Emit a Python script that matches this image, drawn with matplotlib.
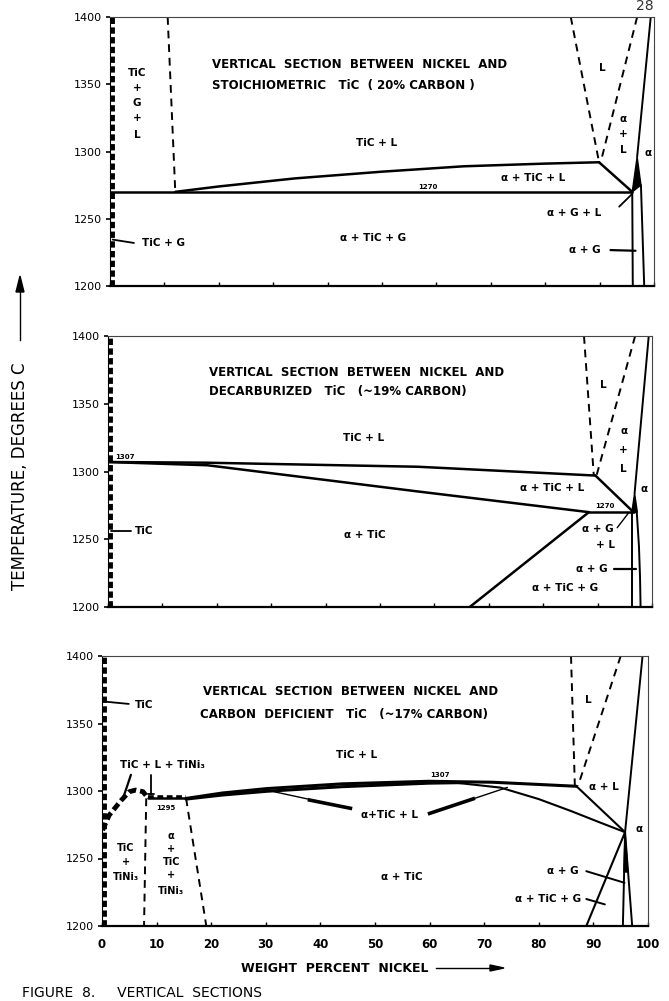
import matplotlib
matplotlib.use("Agg")
from matplotlib import pyplot as plt
from matplotlib.patches import Polygon

plt.rcParams.update({'font.family': 'DejaVu Sans'})

# ---------------- data (wt% Ni, deg C) ----------------
temps = [1200, 1250, 1300, 1350, 1400]
ni_ticks = [0, 10, 20, 30, 40, 50, 60, 70, 80, 90, 100]

# panel 1 : stoichiometric TiC (20% C)
p1_liq_x = [12, 20, 34, 50, 65, 80, 89.9]
p1_liq_t = [1270, 1274, 1280, 1285, 1289, 1291, 1292]
p1_eut_x = [0, 96.0]
p1_eut_t = [1270, 1270]
p1_per_x = [89.9, 96.0]
p1_per_t = [1292, 1270]
p1_dash_a_x = [84.7, 89.9]
p1_dash_a_t = [1400, 1292]
p1_dash_b_x = [96.9, 90.2]
p1_dash_b_t = [1400, 1292]
p1_dash_g_x = [10.6, 12.0]
p1_dash_g_t = [1400, 1270]
p1_alpha_x = [99.4, 96.9]
p1_alpha_t = [1400, 1296]
p1_wedge_x = [96.9, 96.0, 97.6]
p1_wedge_t = [1296, 1270, 1275]
p1_solv_l_x = [96.0, 96.1]
p1_solv_l_t = [1270, 1200]
p1_solv_r_x = [97.6, 98.2]
p1_solv_r_t = [1275, 1200]

# panel 2 : decarburized TiC (~19% C)
p2_liq_x = [0, 18, 57, 89.6]
p2_liq_t = [1307, 1306.5, 1303.5, 1297]
p2_sol_x = [0, 18.3, 56.9, 88.4]
p2_sol_t = [1307, 1304.6, 1285.3, 1270]
p2_eut_x = [88.4, 96.6]
p2_eut_t = [1270, 1270]
p2_per_x = [89.6, 96.6]
p2_per_t = [1297, 1270]
p2_tcg_x = [88.4, 66.5]
p2_tcg_t = [1270, 1200]
p2_dash_a_x = [87.5, 89.3]
p2_dash_a_t = [1400, 1297]
p2_dash_b_x = [96.9, 89.8]
p2_dash_b_t = [1400, 1297]
p2_alpha_x = [99.4, 96.8]
p2_alpha_t = [1400, 1284]
p2_wedge_x = [96.8, 96.3, 97.3]
p2_wedge_t = [1284, 1270, 1270]
p2_solv_l_x = [96.4, 96.4]
p2_solv_l_t = [1270, 1200]
p2_solv_r_x = [97.2, 97.6, 97.8, 97.9]
p2_solv_r_t = [1270, 1245, 1222, 1200]

# panel 3 : carbon deficient TiC (~17% C)
p3_tini_x = [0.1, 1.3, 3.5, 5.0, 6.2, 7.5, 8.4]
p3_tini_t = [1271, 1282, 1293, 1299.5, 1300.7, 1299.5, 1295]
p3_flat_x = [8.4, 15.4]
p3_flat_t = [1294.5, 1294.5]
p3_liq_x = [15.4, 22, 30.2, 44, 59.8, 71.5, 86.9]
p3_liq_t = [1294.5, 1298.5, 1301.8, 1305.3, 1307.2, 1306.5, 1303.5]
p3_sol_x = [15.4, 22, 30.2, 44, 59.8, 66]
p3_sol_t = [1294, 1297, 1299.8, 1303.2, 1305.8, 1306.2]
p3_low_x = [64, 73, 80, 86, 91, 95.8]
p3_low_t = [1306.5, 1302.5, 1294, 1285, 1277, 1269.5]
p3_per_x = [86.9, 95.8]
p3_per_t = [1303.5, 1269.5]
p3_tcg_x = [95.8, 88.7]
p3_tcg_t = [1269.5, 1200]
p3_dash_a_x = [85.9, 86.6]
p3_dash_a_t = [1400, 1304]
p3_dash_b_x = [95.0, 87.2]
p3_dash_b_t = [1400, 1304]
p3_dash_c_x = [8.1, 7.7]
p3_dash_c_t = [1294.5, 1200]
p3_dash_d_x = [15.4, 19.1]
p3_dash_d_t = [1294.5, 1200]
p3_alpha_x = [99.0, 95.8]
p3_alpha_t = [1400, 1269.5]
p3_solv_l_x = [95.8, 95.4]
p3_solv_l_t = [1269.5, 1200]
p3_solv_r_x = [95.8, 97.1]
p3_solv_r_t = [1269.5, 1200]
p3_wedge_x = [95.8, 95.6, 96.3]
p3_wedge_t = [1269.5, 1240, 1240]

W, H = 669, 1001
fig = plt.figure(figsize=(W / 100, H / 100), dpi=100)


def make_axes(left, right, top, bottom):
    ax = fig.add_axes([left / W, 1 - bottom / H, (right - left) / W, (bottom - top) / H])
    ax.set_xlim(0, 100)
    ax.set_ylim(1200, 1400)
    ax.set_yticks(temps)
    ax.set_yticklabels([str(t) for t in temps], fontsize=8)
    ax.set_xticks(ni_ticks)
    ax.tick_params(axis='y', direction='out', length=3, width=1.2, pad=3)
    ax.tick_params(axis='x', direction='in', length=3, width=1)
    for s in ['top', 'right']:
        ax.spines[s].set_linewidth(0.8)
        ax.spines[s].set_color('#444444')
    ax.spines['bottom'].set_linewidth(1.6)
    ax.spines['left'].set_linewidth(0.8)
    # heavy dashed TiC boundary along the left edge
    ax.plot([0.3, 0.3], [1200, 1400], color='black', lw=3.5,
            linestyle=(0, (1.3, 0.7)), clip_on=False, solid_capstyle='butt')
    return ax


def solid(ax, x, t, lw=1.8):
    ax.plot(x, t, color='black', lw=lw, solid_capstyle='round')


def dashed(ax, x, t, lw=1.4):
    ax.plot(x, t, color='black', lw=lw, linestyle=(0, (4, 3)))


def label(ax, x, t, s, size=7.5, ha='center'):
    ax.text(x, t, s, ha=ha, va='center', fontsize=size, fontweight='bold')


def stack(ax, x, ts, words, size=7.5):
    for t, w in zip(ts, words):
        label(ax, x, t, w, size)


def wedge(ax, x, t):
    ax.add_patch(Polygon(list(zip(x, t)), closed=True, color='black'))


# ---------------- panel 1 ----------------
ax1 = make_axes(110, 654, 17, 286)
ax1.set_xticklabels([])
solid(ax1, p1_liq_x, p1_liq_t)
solid(ax1, p1_eut_x, p1_eut_t)
solid(ax1, p1_per_x, p1_per_t)
dashed(ax1, p1_dash_a_x, p1_dash_a_t)
dashed(ax1, p1_dash_b_x, p1_dash_b_t)
dashed(ax1, p1_dash_g_x, p1_dash_g_t)
solid(ax1, p1_alpha_x, p1_alpha_t, 1.4)
wedge(ax1, p1_wedge_x, p1_wedge_t)
solid(ax1, p1_solv_l_x, p1_solv_l_t, 1.4)
solid(ax1, p1_solv_r_x, p1_solv_r_t, 1.4)
solid(ax1, [0.5, 4.4], [1234.5, 1232], 1.3)
solid(ax1, [93.6, 96.0], [1259, 1268.5], 1.3)
solid(ax1, [92.0, 96.6], [1226.7, 1226.2], 1.6)

label(ax1, 18.7, 1365, 'VERTICAL  SECTION  BETWEEN  NICKEL  AND', 8.5, 'left')
label(ax1, 18.7, 1349, 'STOICHIOMETRIC   TiC  ( 20% CARBON )', 8.5, 'left')
stack(ax1, 5.0, [1358, 1347, 1336, 1325, 1312], ['TiC', '+', 'G', '+', 'L'])
label(ax1, 49, 1306, 'TiC + L')
label(ax1, 90.5, 1362, 'L')
stack(ax1, 94.3, [1324, 1313, 1301], ['α', '+', 'L'])
label(ax1, 98.9, 1299, 'α')
label(ax1, 77.7, 1280, 'α + TiC + L')
label(ax1, 58.4, 1273.8, '1270', 5)
label(ax1, 85.3, 1254, 'α + G + L')
label(ax1, 9.8, 1232, 'TiC + G')
label(ax1, 48.4, 1236, 'α + TiC + G')
label(ax1, 87.2, 1227, 'α + G')

# ---------------- panel 2 ----------------
ax2 = make_axes(108, 652, 336, 607)
ax2.set_xticklabels([])
solid(ax2, p2_liq_x, p2_liq_t)
solid(ax2, p2_sol_x, p2_sol_t)
solid(ax2, p2_eut_x, p2_eut_t)
solid(ax2, p2_per_x, p2_per_t)
solid(ax2, p2_tcg_x, p2_tcg_t)
dashed(ax2, p2_dash_a_x, p2_dash_a_t)
dashed(ax2, p2_dash_b_x, p2_dash_b_t)
solid(ax2, p2_alpha_x, p2_alpha_t, 1.4)
wedge(ax2, p2_wedge_x, p2_wedge_t)
solid(ax2, p2_solv_l_x, p2_solv_l_t, 1.4)
solid(ax2, p2_solv_r_x, p2_solv_r_t, 1.4)
solid(ax2, [0.5, 4.2], [1256, 1256], 1.3)
solid(ax2, [93.6, 95.7], [1258.5, 1269.5], 1.0)
solid(ax2, [93.0, 97.0], [1228, 1228], 1.6)

label(ax2, 18.6, 1373, 'VERTICAL  SECTION  BETWEEN  NICKEL  AND', 8.5, 'left')
label(ax2, 18.6, 1359, 'DECARBURIZED   TiC   (~19% CARBON)', 8.5, 'left')
label(ax2, 3.2, 1310.5, '1307', 5)
label(ax2, 46.9, 1324.5, 'TiC + L')
label(ax2, 91.1, 1363.5, 'L')
stack(ax2, 94.8, [1330, 1315.5, 1302], ['α', '+', 'L'])
label(ax2, 98.5, 1287, 'α')
label(ax2, 81.7, 1288, 'α + TiC + L')
label(ax2, 91.4, 1274.5, '1270', 5)
label(ax2, 6.6, 1256, 'TiC')
label(ax2, 47.2, 1253.5, 'α + TiC')
label(ax2, 90.0, 1257.5, 'α + G')
label(ax2, 91.4, 1246, '+ L')
label(ax2, 89.0, 1228, 'α + G')
label(ax2, 84.1, 1214, 'α + TiC + G')

# ---------------- panel 3 ----------------
ax3 = make_axes(102, 648, 656, 926)
ax3.set_xticklabels([str(v) for v in ni_ticks], fontsize=8.5, fontweight='bold')
ax3.tick_params(axis='x', pad=9)
ax3.plot(p3_tini_x, p3_tini_t, color='black', lw=3.5, linestyle=(0, (1.6, 0.8)))
solid(ax3, p3_flat_x, p3_flat_t)
ax3.plot(p3_flat_x, [t + 1 for t in p3_flat_t], color='black', lw=2.6,
         linestyle=(0, (1.6, 1.0)))
solid(ax3, p3_liq_x, p3_liq_t, 2.2)
solid(ax3, p3_sol_x, p3_sol_t, 2.2)
solid(ax3, p3_low_x, p3_low_t, 1.5)
solid(ax3, p3_per_x, p3_per_t, 1.5)
solid(ax3, p3_tcg_x, p3_tcg_t, 1.5)
dashed(ax3, p3_dash_a_x, p3_dash_a_t)
dashed(ax3, p3_dash_b_x, p3_dash_b_t)
dashed(ax3, p3_dash_c_x, p3_dash_c_t)
dashed(ax3, p3_dash_d_x, p3_dash_d_t)
solid(ax3, p3_alpha_x, p3_alpha_t, 1.4)
solid(ax3, p3_solv_l_x, p3_solv_l_t, 1.4)
solid(ax3, p3_solv_r_x, p3_solv_r_t, 1.4)
wedge(ax3, p3_wedge_x, p3_wedge_t)
solid(ax3, [0.3, 4.9], [1366.3, 1364.5], 1.3)
solid(ax3, [5.3, 3.8], [1312, 1294], 1.6)
solid(ax3, [9.0, 9.0], [1312, 1298], 1.3)
solid(ax3, [8.4, 9.6], [1298, 1298], 1.3)
ax3.plot([31.6, 45.5], [1299.4, 1287.2], color='black', lw=1.0)
ax3.plot([38, 45.5], [1293.3, 1287.2], color='black', lw=2.6)
ax3.plot([74.2, 60.0], [1302.6, 1283.4], color='black', lw=1.0)
ax3.plot([68, 60.0], [1294.2, 1283.4], color='black', lw=2.6)
solid(ax3, [88.7, 95.7], [1240.6, 1232], 1.4)
solid(ax3, [88.7, 92.1], [1220, 1216], 1.4)

label(ax3, 18.5, 1373.5, 'VERTICAL  SECTION  BETWEEN  NICKEL  AND', 8.5, 'left')
label(ax3, 18.0, 1357, 'CARBON  DEFICIENT   TiC   (~17% CARBON)', 8.5, 'left')
label(ax3, 7.8, 1363.5, 'TiC')
label(ax3, 11.0, 1319.5, 'TiC + L + TiNi₃')
label(ax3, 11.6, 1287.5, '1295', 5)
stack(ax3, 4.4, [1257.5, 1247.5, 1236.5], ['TiC', '+', 'TiNi₃'], 7)
stack(ax3, 12.7, [1267, 1257, 1247.5, 1237.5, 1226], ['α', '+', 'TiC', '+', 'TiNi₃'], 7)
label(ax3, 46.7, 1327, 'TiC + L')
label(ax3, 61.9, 1311.5, '1307', 5)
label(ax3, 52.6, 1282.5, 'α+TiC + L')
label(ax3, 55.0, 1236, 'α + TiC')
label(ax3, 89.0, 1367.5, 'L')
label(ax3, 92.0, 1303, 'α + L')
label(ax3, 98.3, 1271.5, 'α')
label(ax3, 84.4, 1240.6, 'α + G')
label(ax3, 81.7, 1220, 'α + TiC + G')

# ---------------- page furniture ----------------
fig.text(20 / W, 1 - 476 / H, 'TEMPERATURE, DEGREES C', rotation=90,
         ha='center', va='center', fontsize=12)
fig.add_artist(plt.Line2D([20 / W, 20 / W], [1 - 340 / H, 1 - 285 / H],
                          color='black', lw=1.0))
fig.add_artist(plt.Polygon([[16 / W, 1 - 292 / H], [24 / W, 1 - 292 / H],
                            [20 / W, 1 - 276 / H]], color='black'))
fig.text(241 / W, 1 - 968 / H, 'WEIGHT  PERCENT  NICKEL', ha='left',
         va='center', fontsize=9, fontweight='bold')
fig.add_artist(plt.Line2D([436 / W, 494 / W], [1 - 968 / H, 1 - 968 / H],
                          color='black', lw=1.0))
fig.add_artist(plt.Polygon([[490 / W, 1 - 965 / H], [490 / W, 1 - 971 / H],
                            [504 / W, 1 - 968 / H]], color='black'))
fig.text(645 / W, 1 - 6 / H, '28', ha='center', va='center', fontsize=10,
         color='#333333')
fig.text(22 / W, 1 - 1000 / H, 'FIGURE  8.     VERTICAL  SECTIONS', ha='left',
         va='bottom', fontsize=10)

fig.savefig('out.png', dpi=100)
